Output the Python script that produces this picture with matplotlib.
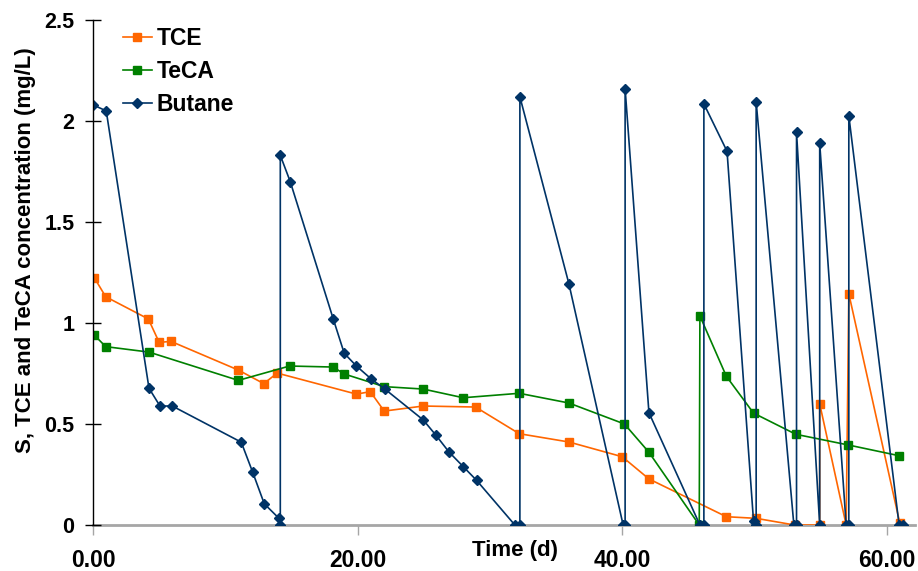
import matplotlib
matplotlib.use("Agg")
import matplotlib.pyplot as plt

# ─────────────────────────────────────────────
# Data
# ─────────────────────────────────────────────

tce_t = [0.1, 0.96, 4.18, 5.0, 5.89, 10.98, 12.9, 13.92, 19.9, 20.95, 22.0, 24.95,
         28.9, 32.2, 35.95, 39.98, 42.0, 47.85, 50.1, 53.0, 54.9, 54.9, 56.9, 57.1, 60.95]
tce_c = [1.224, 1.13, 1.02, 0.904, 0.909, 0.767, 0.70, 0.752, 0.648, 0.66, 0.564, 0.589,
         0.584, 0.452, 0.411, 0.338, 0.228, 0.041, 0.033, 0.0, 0.0, 0.60, 0.0, 1.145, 0.01]

teca_t = [0.1, 0.96, 4.23, 10.98, 14.85, 18.15, 18.96, 22.0, 24.95, 27.97, 32.2,
          35.95, 40.15, 42.0, 45.8, 45.85, 47.85, 49.9, 53.1, 57.07, 60.9]
teca_c = [0.94, 0.883, 0.856, 0.716, 0.787, 0.782, 0.748, 0.685, 0.673, 0.63, 0.652,
          0.604, 0.50, 0.36, 0.0, 1.035, 0.736, 0.554, 0.449, 0.396, 0.343]

butane_t = [0, 1.0, 4.23, 5.06, 5.99, 11.2, 12.06, 12.94, 14.05, 14.15, 14.15, 14.9,
            18.15, 18.98, 19.9, 21.0, 22.05, 24.95, 25.9, 26.9, 27.97, 28.98, 31.87,
            32.25, 32.25, 35.95, 40.05, 40.2, 40.2, 42.0, 45.85, 46.15, 46.15, 47.9,
            49.9, 50.1, 50.1, 52.95, 53.15, 53.15, 54.9, 54.9, 56.9, 57.1, 57.1, 60.9, 61.2]
butane_c = [2.08, 2.05, 0.677, 0.589, 0.589, 0.41, 0.262, 0.105, 0.033, 0, 1.83, 1.70,
            1.02, 0.85, 0.787, 0.724, 0.673, 0.52, 0.445, 0.361, 0.289, 0.221, 0,
            0, 2.12, 1.195, 0, 0, 2.16, 0.556, 0, 0, 2.085, 1.85,
            0.02, 0, 2.095, 0, 0, 1.944, 0, 1.89, 0, 0, 2.026, 0, 0]

x_ticks = [0, 20, 40, 60]
x_tick_labels = ["0.00", "20.00", "40.00", "60.00"]
y_ticks = [0, 0.5, 1, 1.5, 2, 2.5]
y_tick_labels = ["0", "0.5", "1", "1.5", "2", "2.5"]

# ─────────────────────────────────────────────
# Style
# ─────────────────────────────────────────────

plt.rcParams["font.family"] = ["Liberation Sans", "DejaVu Sans"]
plt.rcParams["font.weight"] = "bold"

ORANGE = "#FF6600"
GREEN = "#008000"
NAVY = "#003366"
AXIS_GRAY = "#A6A6A6"

fig = plt.figure(figsize=(9.18, 5.71), dpi=100)
ax = fig.add_axes([93 / 918, 1 - 525 / 571, 822 / 918, 505 / 571])

ax.plot(tce_t, tce_c, color=ORANGE, lw=1.2, marker="s", ms=6, label="TCE")
ax.plot(teca_t, teca_c, color=GREEN, lw=1.2, marker="s", ms=6, label="TeCA")
ax.plot(butane_t, butane_c, color=NAVY, lw=1.2, marker="D", ms=5, label="Butane")

ax.set_xlim(0, 62.1)
ax.set_ylim(0, 2.5)

ax.set_xticks(x_ticks)
ax.set_xticklabels(x_tick_labels, fontsize=16.5, fontweight="bold")
ax.set_yticks(y_ticks)
ax.set_yticklabels(y_tick_labels, fontsize=15.5, fontweight="bold")

ax.tick_params(axis="y", direction="inout", length=11, width=1, color="black", pad=8)
ax.tick_params(axis="x", direction="out", length=7, width=1, color=AXIS_GRAY, pad=10)

for side in ["top", "right"]:
    ax.spines[side].set_visible(False)
ax.spines["left"].set_color("black")
ax.spines["left"].set_linewidth(1)
ax.spines["bottom"].set_color(AXIS_GRAY)
ax.spines["bottom"].set_linewidth(2)
ax.spines["bottom"].set_zorder(1)

ax.set_ylabel("S, TCE and TeCA concentration (mg/L)", fontsize=16, fontweight="bold")
ax.yaxis.set_label_coords(-0.069, 0.545)

ax.text(0.513, -0.05, "Time (d)", transform=ax.transAxes, ha="center", va="center",
        fontsize=16, fontweight="bold")

leg = ax.legend(loc="upper left", bbox_to_anchor=(0.036, 0.987), frameon=False,
                fontsize=16.5, handlelength=1.3, handletextpad=0.2, labelspacing=0.45,
                borderaxespad=0, borderpad=0)
for t in leg.get_texts():
    t.set_fontweight("bold")

fig.savefig("out.png", dpi=100)
